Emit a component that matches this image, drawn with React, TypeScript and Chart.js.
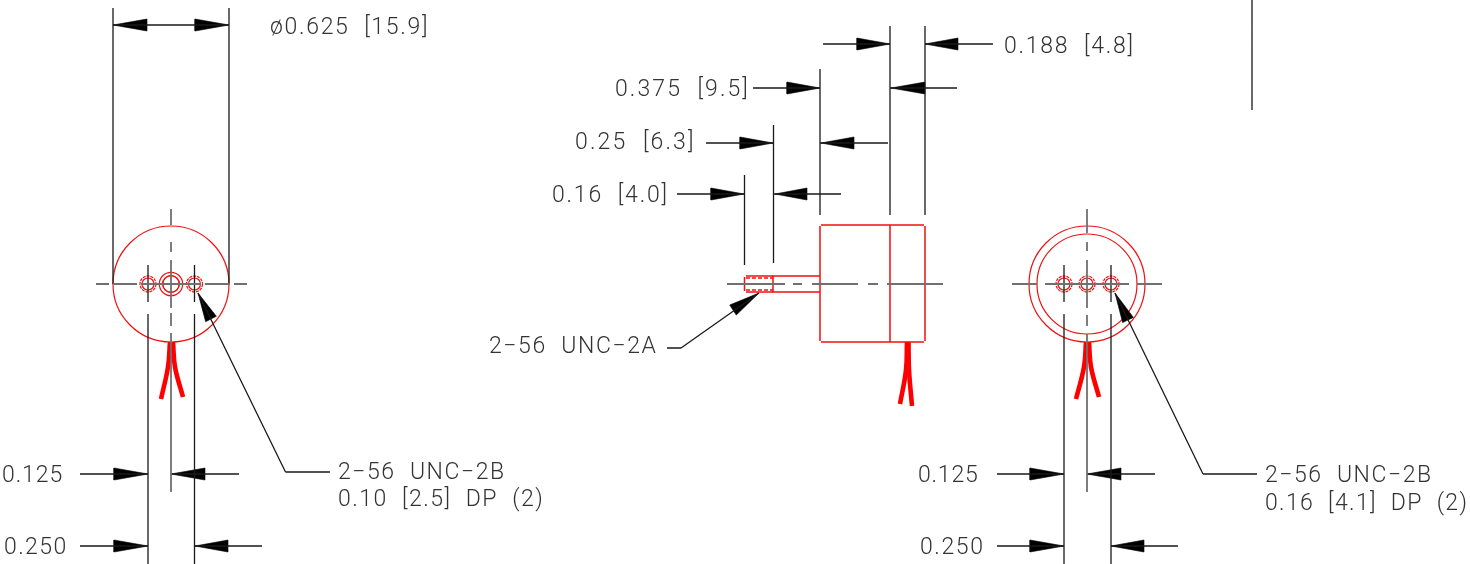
import React, { useEffect, useRef } from "react";
import { Chart, registerables } from "chart.js";

Chart.register(...registerables);

type Seg = number[];

const dimensionLines: Seg[] = [
  [113, 8, 113, 284], [229, 8, 229, 284], [113, 25, 229, 25],
  [148, 265, 148, 302], [148, 314, 148, 564], [194.5, 265, 194.5, 302], [194.5, 314, 194.5, 564],
  [80, 474, 148, 474], [171, 474, 239, 474], [80, 546, 148, 546], [194.5, 546, 262, 546],
  [890, 26, 890, 215], [925, 26, 925, 215], [820, 69, 820, 215], [773.5, 125, 773.5, 263], [744.5, 175, 744.5, 265],
  [823, 44, 890, 44], [925, 44, 993, 44], [753, 88, 820, 88], [890, 88, 957, 88],
  [706, 143, 773, 143], [820, 143, 888, 143], [677, 194, 744, 194], [774, 194, 841, 194],
  [1252, 0, 1252, 110],
  [1064, 265, 1064, 302], [1064, 314, 1064, 564], [1111, 265, 1111, 302], [1111, 314, 1111, 564],
  [997, 474, 1064, 474], [1087, 474, 1155, 474], [997, 546, 1064, 546], [1111, 546, 1178, 546],
  [198, 293, 285.5, 472], [285.5, 472, 330, 472],
  [1115, 293, 1203, 474], [1203, 474, 1257, 474],
  [759, 293, 681, 348], [681, 348, 667, 348],
];

const centerLines: Seg[] = [
  [96, 284, 109, 284], [113, 284, 137, 284], [141, 284, 201, 284], [205, 284, 230, 284], [234, 284, 247, 284],
  [171, 209, 171, 225], [171, 242, 171, 252], [171, 260, 171, 308], [171, 313, 171, 326], [171, 333, 171, 492],
  [727, 284, 785, 284], [793, 284, 802, 284], [812, 284, 858, 284], [868, 284, 878, 284], [887, 284, 943, 284],
  [1012, 284, 1037, 284], [1045, 284, 1129, 284], [1137, 284, 1162, 284],
  [1087, 209, 1087, 233], [1087, 242, 1087, 251], [1087, 260, 1087, 308], [1087, 315, 1087, 326], [1087, 334, 1087, 492],
];

const redLines: Seg[] = [
  [821, 225, 924, 225], [925, 226, 925, 341], [924, 342, 821, 342], [820, 341, 820, 226],
  [890, 225, 890, 342],
  [773, 276, 820, 276], [773, 292, 820, 292], [773, 276, 773, 292],
  [746, 276, 773, 276], [746, 292, 773, 292], [744.5, 277, 744.5, 291],
];

const redDashedLines: Seg[] = [
  [746, 278, 773, 278], [746, 290, 773, 290],
];

const wireLeftA = [[170, 342], [168, 367], [161, 399]];
const wireLeftB = [[173, 342], [175, 367], [183, 397]];
const wireRightA = [[1086, 342], [1084, 367], [1076, 399]];
const wireRightB = [[1089, 342], [1091, 367], [1099, 397]];
const wireMidA = [[907, 342], [906, 370], [900, 404]];
const wireMidB = [[908.5, 342], [909, 370], [912, 406]];
const wires = [wireLeftA, wireLeftB, wireRightA, wireRightB, wireMidA, wireMidB];

// outlines: centre x, centre y, radius
const solidCircles = [
  [171, 284, 58], [171, 284, 11.7], [171, 284, 8.3], [171, 284, 8.3],
  [148, 284, 6], [194.5, 284, 6],
  [1087, 284, 58], [1087, 284, 50],
  [1064, 284, 6], [1087, 284, 6], [1111, 284, 6],
];
const dashedCircles = [
  [148, 284, 8], [194.5, 284, 8],
  [1064, 284, 8], [1087, 284, 8], [1111, 284, 8],
];

// arrow heads: tip x, tip y, base-centre x, base-centre y
const arrowHeads = [
  [113, 25, 147, 25], [229, 25, 195, 25],
  [148, 474, 114, 474], [171, 474, 205, 474], [148, 546, 114, 546], [195, 546, 228, 546],
  [890, 44, 857, 44], [925, 44, 958, 44], [820, 88, 787, 88], [891, 88, 925, 88],
  [773, 143, 740, 143], [821, 143, 854, 143], [744, 194, 711, 194], [775, 194, 807, 194],
  [1064, 474, 1030, 474], [1087, 474, 1121, 474], [1064, 546, 1030, 546], [1111, 546, 1144, 546],
  [198, 293, 211, 319], [1115, 293, 1128, 320], [759, 293, 733, 310],
];

const noteLabels = [
  "ø0.625  [15.9]", "0.188  [4.8]", "0.375  [9.5]", "0.25  [6.3]", "0.16  [4.0]",
  "2−56  UNC−2A", "0.125", "0.250", "2−56  UNC−2B", "0.10  [2.5]  DP  (2)",
  "0.125", "0.250", "2−56  UNC−2B", "0.16  [4.1]  DP  (2)",
];
const noteX = [270, 1004, 615, 575, 552, 489, 2, 4, 338, 338, 918, 920, 1265, 1265];
const noteY = [34, 53, 95.5, 148.5, 201.5, 353, 482, 554, 479, 506, 482, 554, 482, 510];
const noteSpacing = [1.7, 1.75, 2.1, 2.15, 1.8, 1.6, 0.9, 1.4, 1.55, 1.5, 0.8, 1.6, 1.55, 1.35];

const segPoints = (segs: Seg[]) =>
  segs.flatMap(([a, b, c, d]) => [{ x: a, y: b }, { x: c, y: d }, { x: NaN, y: NaN }]);

const lineSet = (segs: Seg[], color: string, width: number, dash: number[] = []) => ({
  type: "scatter",
  data: segPoints(segs),
  showLine: true,
  borderColor: color,
  borderWidth: width,
  borderDash: dash,
  pointRadius: 0,
  spanGaps: false,
});

const circleSet = (circles: number[][], dash: number[] = []) => ({
  type: "scatter",
  data: circles.map(([x, y]) => ({ x, y })),
  showLine: false,
  pointStyle: "circle",
  pointRadius: circles.map((c) => c[2]),
  pointBackgroundColor: "rgba(0,0,0,0)",
  pointBorderColor: "#f01010",
  pointBorderWidth: 1.2,
  circleDash: dash,
});

const arrowSet = ([tx, ty, bx, by]: number[]) => {
  const len = Math.hypot(bx - tx, by - ty);
  const nx = (-(by - ty) / len) * 6;
  const ny = ((bx - tx) / len) * 6;
  return {
    type: "scatter",
    data: [
      { x: tx, y: ty }, { x: bx + nx, y: by + ny }, { x: bx - nx, y: by - ny }, { x: tx, y: ty },
    ],
    showLine: true,
    borderColor: "#000",
    borderWidth: 0.6,
    backgroundColor: "#000",
    fill: "shape",
    pointRadius: 0,
  };
};

const wireSet = (pts: number[][]) => ({
  type: "scatter",
  data: pts.map(([x, y]) => ({ x, y })),
  showLine: true,
  borderColor: "#ff0000",
  borderWidth: 4.6,
  tension: 0.4,
  pointRadius: 0,
});

const dashPlugin = {
  id: "circleDash",
  beforeDatasetDraw(chart: any, args: any) {
    const d = chart.data.datasets[args.index];
    chart.ctx.save();
    if (d.circleDash) chart.ctx.setLineDash(d.circleDash);
  },
  afterDatasetDraw(chart: any) {
    chart.ctx.restore();
  },
};

const notePlugin = {
  id: "notes",
  afterDatasetsDraw(chart: any) {
    const { ctx, scales } = chart;
    ctx.save();
    ctx.font = '300 23px "Roboto", sans-serif';
    ctx.fillStyle = "#333";
    ctx.textBaseline = "alphabetic";
    noteLabels.forEach((t, i) => {
      (ctx as any).letterSpacing = noteSpacing[i] + "px";
      ctx.fillText(t, scales.x.getPixelForValue(noteX[i]), scales.y.getPixelForValue(noteY[i]));
    });
    ctx.restore();
  },
};

export default function App() {
  const ref = useRef<HTMLCanvasElement>(null);
  useEffect(() => {
    document.body.style.margin = "0";
    document.body.style.background = "#fff";
    const chart = new Chart(ref.current as HTMLCanvasElement, {
      type: "scatter",
      data: {
        datasets: [
          lineSet(centerLines, "#707070", 1.8),
          lineSet(dimensionLines, "#1a1a1a", 1.3),
          ...arrowHeads.map(arrowSet),
          lineSet(redLines, "#f01010", 1.5),
          lineSet(redDashedLines, "#f01010", 1.3, [4, 2]),
          circleSet(solidCircles),
          circleSet(dashedCircles, [3, 1]),
          ...wires.map(wireSet),
        ] as any,
      },
      options: {
        responsive: false,
        animation: false,
        devicePixelRatio: 1,
        layout: { padding: 0, autoPadding: false },
        plugins: { legend: { display: false }, title: { display: false }, tooltip: { enabled: false } },
        scales: {
          x: { type: "linear", min: 0, max: 1470, display: false },
          y: { type: "linear", min: 0, max: 564, reverse: true, display: false },
        },
      } as any,
      plugins: [dashPlugin, notePlugin],
    });
    return () => chart.destroy();
  }, []);
  return <canvas ref={ref} width={1470} height={564} style={{ display: "block" }} />;
}
